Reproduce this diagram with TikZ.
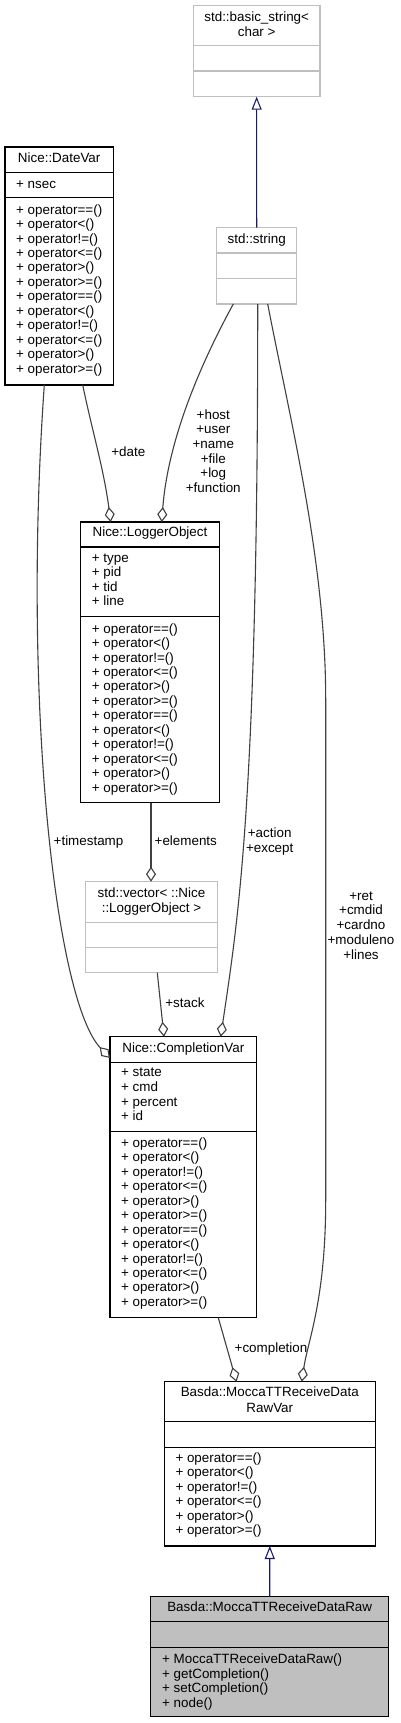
\documentclass[tikz,border=0pt]{standalone}
\usepackage{fontspec}
\setmainfont{Liberation Sans}
\usetikzlibrary{arrows.meta,calc}
\definecolor{edgec}{HTML}{404040}
\definecolor{inhc}{HTML}{191970}
\definecolor{lgray}{HTML}{BFBFBF}
\definecolor{rawfill}{HTML}{BFBFBF}
\begin{document}
\begin{tikzpicture}[x=1pt,y=-1pt,
  box/.style={draw=black,line width=1.1pt,fill=white,rectangle,inner sep=0pt,outer sep=0pt,anchor=north west},
  gbox/.style={box,draw=lgray},
  sepl/.style={draw=black,line width=1.1pt},
  gsepl/.style={draw=lgray,line width=1.1pt},
  txt/.style={font=\fontsize{13.4}{14.4}\selectfont,inner sep=0pt,text height=9.6pt,text depth=2.6pt},
  tl/.style={txt,anchor=west},
  tc/.style={txt,anchor=center},
  agg/.style={draw=edgec,line width=1.1pt,-{Diamond[length=15pt,width=10pt,fill=white]}},
  inh/.style={draw=inhc,line width=1.1pt,-{Triangle[length=13pt,width=10pt,fill=white]}}
]
\fill[white] (0,0) rectangle (401,1723);
\useasboundingbox (0,0) rectangle (401,1723);

% ---- std::basic_string<char>
\node[gbox,minimum width=126.7pt,minimum height=91pt] (basic) at (193.3,5.7) {};
\draw[gsepl] (193.3,45.7) -- (320,45.7);
\draw[gsepl] (193.3,71) -- (320,71);
\node[tc] (basic-t1) at (256.7,17.7) {std::basic\_string<};
\node[tc] (basic-t2) at (256.7,32.7) {char >};

% ---- std::string
\node[gbox,minimum width=80pt,minimum height=76.3pt] (string) at (216.7,227.7) {};
\draw[gsepl] (216.7,253) -- (296.7,253);
\draw[gsepl] (216.7,278.7) -- (296.7,278.7);
\node[tc] (string-t) at (256.7,240) {std::string};

% ---- Nice::DateVar
\node[box,minimum width=108.3pt,minimum height=238pt] (datevar) at (5,147) {};
\draw[sepl] (5,172.3) -- (113.3,172.3);
\draw[sepl] (5,197.7) -- (113.3,197.7);
\node[tc] (datevar-t) at (59.2,159) {Nice::DateVar};
\node[tl] (datevar-a) at (16,185) {+ nsec};
\foreach \o [count=\i from 0] in {==,<,!=,<=,>,>=,==,<,!=,<=,>,>=}
  \node[tl] (datevar-o\i) at (16,210.7+14.44*\i) {+ operator\o()};

% ---- Nice::LoggerObject
\node[box,minimum width=138.6pt,minimum height=280.7pt] (logger) at (80.7,522) {};
\draw[sepl] (80.7,547) -- (219.3,547);
\draw[sepl] (80.7,616.7) -- (219.3,616.7);
\node[tc] (logger-t) at (150,533.3) {Nice::LoggerObject};
\foreach \a [count=\i from 0] in {type,pid,tid,line}
  \node[tl] (logger-a\i) at (91.7,559+14.44*\i) {+ \a};
\foreach \o [count=\i from 0] in {==,<,!=,<=,>,>=,==,<,!=,<=,>,>=}
  \node[tl] (logger-o\i) at (91.7,629.7+14.44*\i) {+ operator\o()};

% ---- std::vector< ::Nice::LoggerObject >
\node[gbox,minimum width=131.6pt,minimum height=91pt] (vector) at (85.7,881.7) {};
\draw[gsepl] (85.7,922.3) -- (217.3,922.3);
\draw[gsepl] (85.7,947.3) -- (217.3,947.3);
\node[tc] (vector-t1) at (151.5,894) {std::vector< ::Nice};
\node[tc] (vector-t2) at (151.5,908.7) {::LoggerObject >};

% ---- Nice::CompletionVar
\node[box,minimum width=146.7pt,minimum height=281pt] (completion) at (110,1036.7) {};
\draw[sepl] (110,1062.3) -- (256.7,1062.3);
\draw[sepl] (110,1131.7) -- (256.7,1131.7);
\node[tc] (completion-t) at (183.3,1049) {Nice::CompletionVar};
\foreach \a [count=\i from 0] in {state,cmd,percent,id}
  \node[tl] (completion-a\i) at (121,1073.3+14.6*\i) {+ \a};
\foreach \o [count=\i from 0] in {==,<,!=,<=,>,>=,==,<,!=,<=,>,>=}
  \node[tl] (completion-o\i) at (121,1144+14.44*\i) {+ operator\o()};

% ---- Basda::MoccaTTReceiveDataRawVar
\node[box,minimum width=211pt,minimum height=164.3pt] (rawvar) at (164.3,1381.7) {};
\draw[sepl] (164.3,1421.7) -- (375.3,1421.7);
\draw[sepl] (164.3,1447.3) -- (375.3,1447.3);
\node[tc] (rawvar-t1) at (269.8,1393.3) {Basda::MoccaTTReceiveData};
\node[tc] (rawvar-t2) at (269.8,1409.3) {RawVar};
\foreach \o [count=\i from 0] in {==,<,!=,<=,>,>=}
  \node[tl] (rawvar-o\i) at (175.3,1459+14.44*\i) {+ operator\o()};

% ---- Basda::MoccaTTReceiveDataRaw
\node[box,fill=rawfill,minimum width=238pt,minimum height=120pt] (raw) at (150.7,1596.7) {};
\draw[sepl] (150.7,1621.7) -- (388.7,1621.7);
\draw[sepl] (150.7,1647.3) -- (388.7,1647.3);
\node[tc] (raw-t) at (269.7,1608.3) {Basda::MoccaTTReceiveDataRaw};
\foreach \m [count=\i from 0] in {MoccaTTReceiveDataRaw(),getCompletion(),setCompletion(),node()}
  \node[tl] (raw-m\i) at (162,1660+14.6*\i) {+ \m};

% ---- inheritance
\draw[inh] (string.north) -- (basic.south);
\draw[inh] (raw.north) -- (rawvar.south);

% ---- associations
\draw[agg] ([xshift=77.7pt]datevar.south west) .. controls (92,430) and (104,470) .. ([xshift=30pt]logger.north west);
\draw[agg] ([xshift=16.6pt]string.south west) .. controls (200,365) and (168,440) .. ([xshift=81pt]logger.north west);
\draw[agg] ([xshift=39.3pt]datevar.south west) .. controls (22,700) and (55,1000) .. ([yshift=-21.3pt]completion.north west);
\draw[agg] ([xshift=70.3pt]logger.south west) -- ([xshift=65.3pt]vector.north west);
\draw[agg] ([xshift=71.6pt]vector.south west) -- ([xshift=54pt]completion.north west);
\draw[agg] ([xshift=41pt]string.south west) .. controls (258,800) and (238,920) .. ([xshift=110.7pt]completion.north west);
\draw[agg] ([xshift=51pt]string.south west) .. controls (290,420) and (325.7,560) .. (325.7,700) -- (325.7,1200) .. controls (325.7,1300) and (308,1340) .. ([xshift=137.4pt]rawvar.north west);
\draw[agg] ([xshift=108.3pt]completion.south west) -- ([xshift=72.2pt]rawvar.north west);

% ---- edge labels
\node[tl] (lbl-date) at (111.2,452.7) {+date};
\foreach \w [count=\i from 0] in {+host,+user,+name,+file,+log,+function}
  \node[tc] (lbl-host\i) at (213.3,415.7+14.66*\i) {\w};
\node[tl] (lbl-timestamp) at (53.5,841.7) {+timestamp};
\node[tl] (lbl-elements) at (154.5,841.7) {+elements};
\node[tc] (lbl-action) at (269.7,834) {+action};
\node[tc] (lbl-except) at (269.7,849) {+except};
\foreach \w [count=\i from 0] in {+ret,+cmdid,+cardno,+moduleno,+lines}
  \node[tc] (lbl-ret\i) at (361,896.7+14.75*\i) {\w};
\node[tl] (lbl-stack) at (165.2,1004) {+stack};
\node[tl] (lbl-completion) at (234.5,1349) {+completion};
\end{tikzpicture}
\end{document}
